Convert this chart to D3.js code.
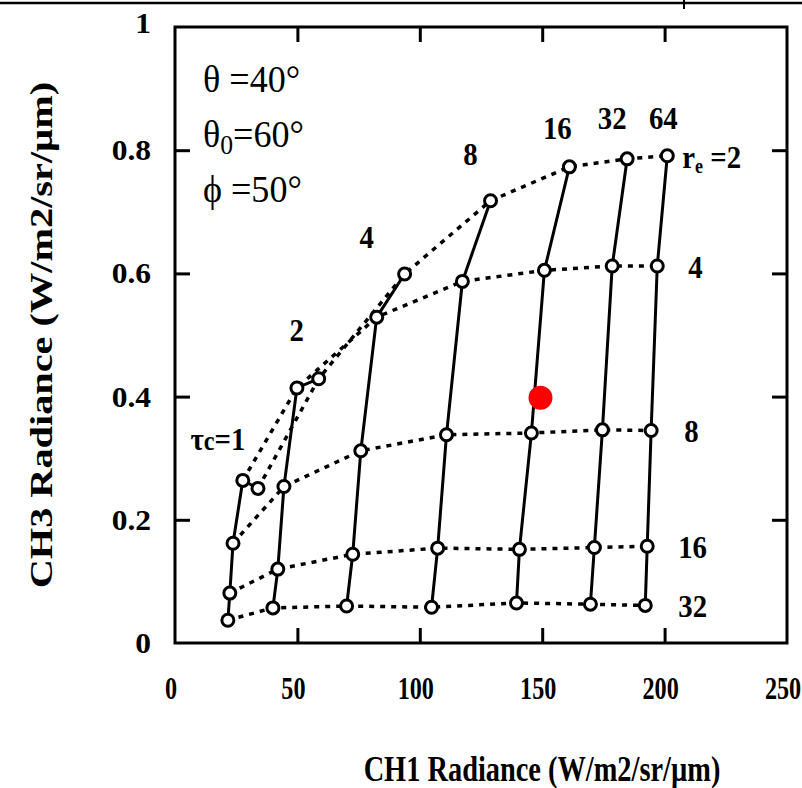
<!DOCTYPE html>
<html>
<head>
<meta charset="utf-8">
<script src="https://cdn.jsdelivr.net/npm/d3@7"></script>
<style>
  body { margin: 0; background: #fff; }
  text { font-family: "Liberation Serif", "DejaVu Serif", serif; }
</style>
</head>
<body>
<svg id="chart" width="802" height="788"></svg>
<script>
// niveles de la tabla: espesor optico (columnas) y radio efectivo (filas)
const tauLevels = [1, 2, 4, 8, 16, 32, 64];
const reLevels = [2, 4, 8, 16, 32];

// CH1 para cada tau, ordenado por re = 2, 4, 8, 16, 32
const ch1 = [
  [33.9, 27.7, 23.7, 22.4, 21.6],
  [58.7, 49.8, 44.5, 42.0, 40.0],
  [93.8, 82.4, 75.9, 72.6, 70.1],
  [128.9, 117.4, 110.9, 107.3, 104.8],
  [161.1, 150.9, 145.6, 140.7, 139.5],
  [184.7, 178.6, 174.6, 171.3, 169.7],
  [201.1, 197.0, 194.5, 192.9, 192.1]
];
// CH3 para cada tau, mismo orden
const ch3 = [
  [0.251, 0.264, 0.162, 0.081, 0.037],
  [0.429, 0.414, 0.254, 0.120, 0.057],
  [0.599, 0.529, 0.312, 0.144, 0.060],
  [0.718, 0.587, 0.338, 0.154, 0.058],
  [0.773, 0.605, 0.341, 0.152, 0.065],
  [0.786, 0.612, 0.346, 0.155, 0.063],
  [0.791, 0.612, 0.345, 0.157, 0.061]
];

// punto observado (rojo)
const obsCh1 = [149.3];
const obsCh3 = [0.398];

const xTicks = [0, 50, 100, 150, 200, 250];
const yTicks = [0, 0.2, 0.4, 0.6, 0.8, 1];

const svg = d3.select("#chart");

const mLeft = 175, mRight = 787, mTop = 27, mBottom = 643;

const x = d3.scaleLinear().domain([0, 250]).range([mLeft, mRight]);
const y = d3.scaleLinear().domain([0, 1]).range([mBottom, mTop]);

// texto con escala (el escaneo esta estirado en vertical)
function addText(parent, px, py, size, sx, sy, rot) {
  return parent.append("text")
    .attr("transform", `translate(${px},${py})` + (rot ? ` rotate(${rot})` : "") + ` scale(${sx},${sy})`)
    .style("font-size", size + "px")
    .style("font-family", "'Liberation Serif', serif");
}

// linea del borde superior del escaneo
svg.append("line")
  .attr("x1", 0).attr("x2", 802).attr("y1", 3).attr("y2", 3)
  .attr("stroke", "#000").attr("stroke-width", 2.5);
svg.append("line")
  .attr("x1", 684).attr("x2", 684).attr("y1", 0).attr("y2", 9)
  .attr("stroke", "#000").attr("stroke-width", 2);

// marco
svg.append("rect")
  .attr("x", mLeft).attr("y", mTop)
  .attr("width", mRight - mLeft).attr("height", mBottom - mTop)
  .attr("fill", "none").attr("stroke", "#000").attr("stroke-width", 3);

// marcas hacia dentro en los cuatro lados
const tickLen = 15;
const inner = (t, d) => t !== d[0] && t !== d[d.length - 1];

svg.append("g")
  .attr("transform", `translate(0,${mBottom})`)
  .call(d3.axisBottom(x).tickValues(xTicks.filter(t => inner(t, xTicks))).tickSize(-tickLen).tickFormat(""))
  .call(g => g.select(".domain").remove());
svg.append("g")
  .attr("transform", `translate(0,${mTop})`)
  .call(d3.axisTop(x).tickValues(xTicks.filter(t => inner(t, xTicks))).tickSize(-tickLen).tickFormat(""))
  .call(g => g.select(".domain").remove());
svg.append("g")
  .attr("transform", `translate(${mLeft},0)`)
  .call(d3.axisLeft(y).tickValues(yTicks.filter(t => inner(t, yTicks))).tickSize(-tickLen).tickFormat(""))
  .call(g => g.select(".domain").remove());
svg.append("g")
  .attr("transform", `translate(${mRight},0)`)
  .call(d3.axisRight(y).tickValues(yTicks.filter(t => inner(t, yTicks))).tickSize(-tickLen).tickFormat(""))
  .call(g => g.select(".domain").remove());
svg.selectAll(".tick line").attr("stroke", "#000").attr("stroke-width", 3);

// etiquetas de los ejes
const xLab = svg.append("g").style("font-weight", "bold");
xTicks.forEach(t => {
  addText(xLab, x(t) - 4, 699, 31, 0.78, 1)
    .attr("text-anchor", "middle")
    .text(t);
});

const yLab = svg.append("g").style("font-weight", "bold");
yTicks.forEach(t => {
  addText(yLab, 151, y(t) + (t === 1 ? 6 : 10), 30, 1.05, 1)
    .attr("text-anchor", "end")
    .text(t);
});

addText(svg, 542, 781, 33, 0.86, 1.08)
  .attr("text-anchor", "middle")
  .style("font-weight", "bold")
  .text("CH1 Radiance (W/m2/sr/µm)");

addText(svg, 52, 335, 31, 1.3, 1, -90)
  .attr("text-anchor", "middle")
  .style("font-weight", "bold")
  .text("CH3 Radiance (W/m2/sr/µm)");

// tabla de puntos
const grid = tauLevels.map((tau, i) =>
  reLevels.map((re, j) => ({ tau, re, cx: ch1[i][j], cy: ch3[i][j] })));

const line = d3.line().x(d => x(d.cx)).y(d => y(d.cy));

// filas de re constante: punteadas
reLevels.forEach((re, j) => {
  svg.append("path")
    .datum(grid.map(col => col[j]))
    .attr("d", line)
    .attr("fill", "none")
    .attr("stroke", "#000")
    .attr("stroke-width", 3.5)
    .attr("stroke-dasharray", "5,6");
});

// columnas de tau constante: continuas
grid.forEach(col => {
  svg.append("path")
    .datum(col)
    .attr("d", line)
    .attr("fill", "none")
    .attr("stroke", "#000")
    .attr("stroke-width", 3);
});

svg.append("g").selectAll("circle")
  .data(grid.flat())
  .enter()
  .append("circle")
  .attr("cx", d => x(d.cx))
  .attr("cy", d => y(d.cy))
  .attr("r", 6)
  .attr("fill", "#fff")
  .attr("stroke", "#000")
  .attr("stroke-width", 3);

// punto rojo
svg.append("g").selectAll("circle")
  .data(obsCh1.map((v, i) => ({ cx: v, cy: obsCh3[i] })))
  .enter()
  .append("circle")
  .attr("cx", d => x(d.cx))
  .attr("cy", d => y(d.cy))
  .attr("r", 12)
  .attr("fill", "#ff0000");

// etiquetas de tau sobre el punto superior de cada columna
const tauOffsets = [[-40, -38], [-22, -38], [-38, -26], [-20, -36], [-12, -28], [-15, -30], [-4, -27]];
grid.forEach((col, i) => {
  const t = addText(svg, x(col[0].cx) + tauOffsets[i][0], y(col[0].cy) + tauOffsets[i][1], 32, 0.9, 1)
    .attr("text-anchor", "middle")
    .style("font-weight", "bold");
  if (i === 0) {
    t.append("tspan").text("τ");
    t.append("tspan").text("c").style("font-size", "27px");
    t.append("tspan").text("=1");
  } else {
    t.text(tauLevels[i]);
  }
});

// etiquetas de re a la derecha
const reOffsets = [15, 31, 33, 31, 33];
reLevels.forEach((re, j) => {
  const p = grid[grid.length - 1][j];
  const t = addText(svg, x(p.cx) + reOffsets[j], y(p.cy) + 12, 32, 0.9, 1)
    .style("font-weight", "bold");
  if (j === 0) {
    t.append("tspan").text("r");
    t.append("tspan").text("e").attr("dy", 5).style("font-size", "20px");
    t.append("tspan").text(" =2").attr("dy", -5);
  } else {
    t.text(re);
  }
});

// geometria
const angles = svg.append("g");
addText(angles, 203, 92, 38, 0.95, 1).text("θ =40°");
const a2 = addText(angles, 203, 147, 38, 0.95, 1);
a2.append("tspan").text("θ");
a2.append("tspan").text("0").attr("dy", 7).style("font-size", "27px");
a2.append("tspan").text("=60°").attr("dy", -7);
addText(angles, 203, 202, 38, 0.95, 1).text("ϕ =50°");
</script>
</body>
</html>
